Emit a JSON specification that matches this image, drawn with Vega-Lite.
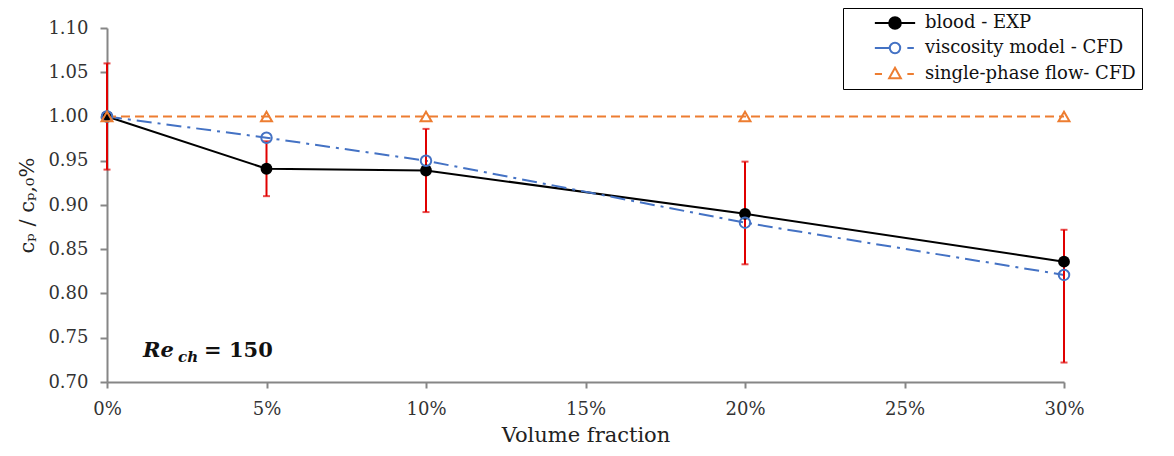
{
  "$schema": "https://vega.github.io/schema/vega-lite/v6.json",
  "width": 957,
  "height": 354,
  "autosize": "none",
  "padding": {"left": 107, "top": 28, "right": 110, "bottom": 74},
  "background": "white",
  "config": {
    "font": "DejaVu Serif",
    "view": {"stroke": null},
    "axis": {
      "grid": false,
      "labelFlush": false,
      "domainColor": "#868686",
      "domainWidth": 2,
      "tickColor": "#868686",
      "tickWidth": 2,
      "labelFont": "DejaVu Serif",
      "labelFontSize": 18,
      "labelColor": "#333333",
      "titleFont": "DejaVu Serif",
      "titleFontWeight": "normal",
      "titleColor": "#222222",
      "titleFontSize": 21
    }
  },
  "datasets": {
    "pts": [
      {"vf": 0.00, "cp": 1.000, "lo": 0.940, "hi": 1.060, "series": "blood - EXP"},
      {"vf": 0.05, "cp": 0.941, "lo": 0.910, "hi": 0.972, "series": "blood - EXP"},
      {"vf": 0.10, "cp": 0.939, "lo": 0.892, "hi": 0.986, "series": "blood - EXP"},
      {"vf": 0.20, "cp": 0.890, "lo": 0.833, "hi": 0.949, "series": "blood - EXP"},
      {"vf": 0.30, "cp": 0.836, "lo": 0.722, "hi": 0.872, "series": "blood - EXP"},
      {"vf": 0.00, "cp": 1.000, "series": "viscosity model - CFD"},
      {"vf": 0.05, "cp": 0.976, "series": "viscosity model - CFD"},
      {"vf": 0.10, "cp": 0.950, "series": "viscosity model - CFD"},
      {"vf": 0.20, "cp": 0.880, "series": "viscosity model - CFD"},
      {"vf": 0.30, "cp": 0.821, "series": "viscosity model - CFD"},
      {"vf": 0.00, "cp": 1.000, "series": "single-phase flow- CFD"},
      {"vf": 0.05, "cp": 1.000, "series": "single-phase flow- CFD"},
      {"vf": 0.10, "cp": 1.000, "series": "single-phase flow- CFD"},
      {"vf": 0.20, "cp": 1.000, "series": "single-phase flow- CFD"},
      {"vf": 0.30, "cp": 1.000, "series": "single-phase flow- CFD"}
    ]
  },
  "data": {"name": "pts"},
  "encoding": {
    "x": {
      "field": "vf",
      "type": "quantitative",
      "scale": {"domain": [0, 0.3], "nice": false},
      "axis": {
        "title": "Volume fraction",
        "format": ".0%",
        "values": [0, 0.05, 0.1, 0.15, 0.2, 0.25, 0.3],
        "tickSize": 6,
        "labelPadding": 12,
        "titlePadding": 6
      }
    },
    "y": {
      "field": "cp",
      "type": "quantitative",
      "scale": {"domain": [0.7, 1.1], "nice": false, "zero": false},
      "axis": {
        "title": "cₚ / cₚ,₀%",
        "format": ".2f",
        "values": [0.7, 0.75, 0.8, 0.85, 0.9, 0.95, 1.0, 1.05, 1.1],
        "tickSize": 7,
        "labelPadding": 12,
        "titlePadding": 10
      }
    }
  },
  "layer": [
    {
      "transform": [{"filter": {"field": "series", "equal": "blood - EXP"}}],
      "mark": {"type": "line", "strokeWidth": 2, "color": "#000000"}
    },
    {
      "transform": [{"filter": {"field": "series", "equal": "viscosity model - CFD"}}],
      "mark": {"type": "line", "strokeWidth": 2, "color": "#4472C4", "strokeDash": [15, 6, 3, 6]}
    },
    {
      "transform": [{"filter": {"field": "series", "equal": "single-phase flow- CFD"}}],
      "mark": {"type": "line", "strokeWidth": 2, "color": "#ED7D31", "strokeDash": [9, 5]}
    },
    {
      "transform": [{"filter": "isValid(datum.lo)"}],
      "mark": {"type": "rule", "color": "#E00000", "strokeWidth": 2},
      "encoding": {
        "y": {"field": "lo", "type": "quantitative"},
        "y2": {"field": "hi"}
      }
    },
    {
      "transform": [{"filter": "isValid(datum.lo)"}],
      "mark": {"type": "tick", "color": "#E00000", "orient": "horizontal", "size": 7, "thickness": 2},
      "encoding": {"y": {"field": "lo", "type": "quantitative"}}
    },
    {
      "transform": [{"filter": "isValid(datum.hi)"}],
      "mark": {"type": "tick", "color": "#E00000", "orient": "horizontal", "size": 7, "thickness": 2},
      "encoding": {"y": {"field": "hi", "type": "quantitative"}}
    },
    {
      "transform": [{"filter": {"field": "series", "equal": "blood - EXP"}}],
      "mark": {"type": "point", "shape": "circle", "filled": true, "color": "#000000", "size": 140, "opacity": 1}
    },
    {
      "transform": [{"filter": {"field": "series", "equal": "viscosity model - CFD"}}],
      "mark": {"type": "point", "shape": "circle", "filled": false, "color": "#4472C4", "strokeWidth": 2, "size": 110, "opacity": 1}
    },
    {
      "transform": [{"filter": {"field": "series", "equal": "single-phase flow- CFD"}}],
      "mark": {"type": "point", "shape": "triangle-up", "filled": false, "color": "#ED7D31", "strokeWidth": 2, "size": 120, "opacity": 1}
    },
    {
      "transform": [{"filter": "false"}],
      "mark": {"type": "point", "strokeWidth": 2, "opacity": 1},
      "encoding": {
        "shape": {
          "field": "series",
          "type": "nominal",
          "scale": {
            "domain": ["blood - EXP", "viscosity model - CFD", "single-phase flow- CFD"],
            "range": [
              "M-3.1,0H3.1M0.9,0A0.9,0.9,0,1,1,-0.9,0A0.9,0.9,0,1,1,0.9,0Z",
              "M-3.1,0H-0.9M1.9,0H2.9M0.8,0A0.8,0.8,0,1,1,-0.8,0A0.8,0.8,0,1,1,0.8,0Z",
              "M-3.1,0H-2M1.9,0H2.9M0,-0.95L0.9,0.65L-0.9,0.65Z"
            ]
          },
          "legend": {
            "title": null,
            "orient": "none",
            "legendX": 736,
            "legendY": -20,
            "symbolSize": 169,
            "symbolStrokeWidth": 2,
            "symbolOpacity": 1,
            "symbolOffset": 37,
            "labelFont": "DejaVu Serif",
            "labelFontSize": 18,
            "labelColor": "#111111",
            "labelOffset": 21,
            "labelLimit": 400,
            "strokeColor": "#000000",
            "fillColor": "white",
            "padding": 6,
            "rowPadding": 5
          }
        },
        "stroke": {
          "field": "series",
          "type": "nominal",
          "scale": {
            "domain": ["blood - EXP", "viscosity model - CFD", "single-phase flow- CFD"],
            "range": ["#000000", "#4472C4", "#ED7D31"]
          }
        },
        "fill": {
          "field": "series",
          "type": "nominal",
          "scale": {
            "domain": ["blood - EXP", "viscosity model - CFD", "single-phase flow- CFD"],
            "range": ["#000000", "transparent", "transparent"]
          }
        }
      }
    },
    {
      "data": {"values": [{"vf": 0.0113, "cp": 0.728, "txt": "Re"}]},
      "mark": {"type": "text", "align": "left", "baseline": "alphabetic", "font": "DejaVu Serif", "fontSize": 21, "fontWeight": "bold", "fontStyle": "italic", "color": "#111111"},
      "encoding": {"text": {"field": "txt"}}
    },
    {
      "data": {"values": [{"vf": 0.0113, "cp": 0.728, "txt": "ch"}]},
      "mark": {"type": "text", "align": "left", "baseline": "alphabetic", "dx": 35, "dy": 5, "font": "DejaVu Serif", "fontSize": 15, "fontWeight": "bold", "fontStyle": "italic", "color": "#111111"},
      "encoding": {"text": {"field": "txt"}}
    },
    {
      "data": {"values": [{"vf": 0.0113, "cp": 0.728, "txt": "= 150"}]},
      "mark": {"type": "text", "align": "left", "baseline": "alphabetic", "dx": 61, "font": "DejaVu Serif", "fontSize": 21, "fontWeight": "bold", "color": "#111111"},
      "encoding": {"text": {"field": "txt"}}
    }
  ]
}
